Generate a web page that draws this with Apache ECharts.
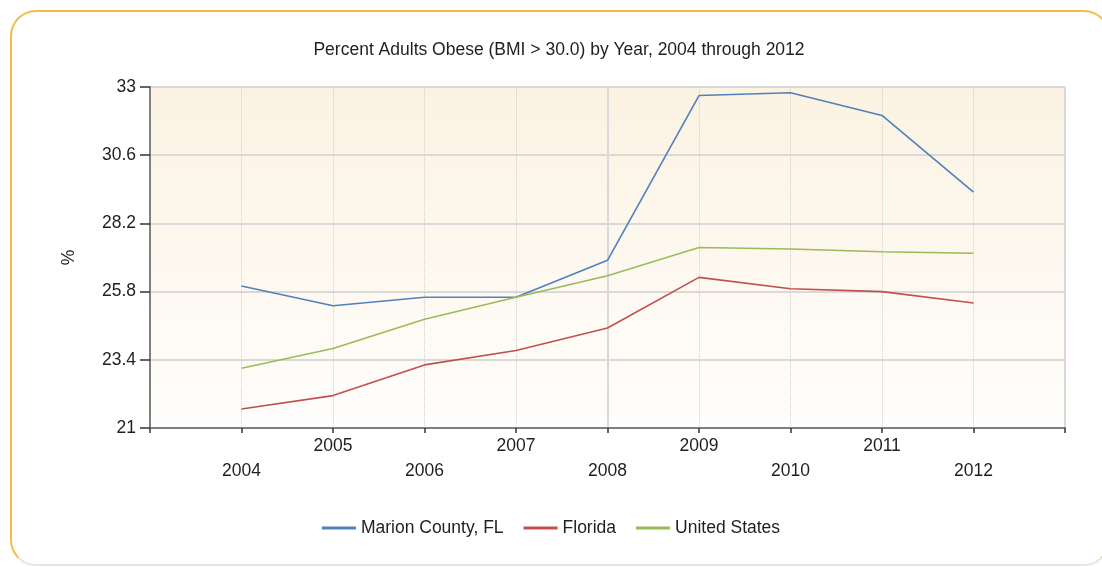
<!DOCTYPE html>
<html>
<head>
<meta charset="utf-8">
<script src="https://cdn.jsdelivr.net/npm/echarts@6/dist/echarts.min.js"></script>
<style>
  html, body { margin: 0; padding: 0; width: 1102px; height: 567px; overflow: hidden; background: #fff; }
  .frame {
    position: absolute; left: 10px; top: 10px; width: 1100px; height: 556px;
    border: 2px solid #f7bb45; border-bottom-color: #e6e6e6; border-radius: 26px; box-sizing: border-box;
  }
  #chart { position: absolute; left: 0; top: 0; width: 1102px; height: 567px; }
</style>
</head>
<body>
<div class="frame"></div>
<div id="chart"></div>
<script>
// 数据
const years = [2004, 2005, 2006, 2007, 2008, 2009, 2010, 2011, 2012]
const marion = [26.0, 25.3, 25.6, 25.6, 26.9, 32.7, 32.8, 32.0, 29.3]
const florida = [21.67, 22.14, 23.22, 23.73, 24.52, 26.3, 25.9, 25.8, 25.4]
const unitedStates = [23.1, 23.8, 24.83, 25.6, 26.36, 27.35, 27.3, 27.2, 27.15]
const yTicks = [21, 23.4, 25.8, 28.2, 30.6, 33]

const font = "'Liberation Sans', Arial, sans-serif"
const textColor = "#1f1f1f"
const fontSize = 17.5

const toPairs = (vals) => years.map((y, i) => [y, vals[i]])

const myChart = echarts.init(document.getElementById("chart"))

const option = {
  animation: false,
  textStyle: { fontFamily: font },
  title: {
    text: "Percent Adults Obese (BMI > 30.0) by Year, 2004 through 2012",
    left: 554,
    textAlign: "center",
    top: 36,
    textStyle: { fontSize: fontSize, fontWeight: "normal", color: textColor, fontFamily: font },
  },
  legend: {
    bottom: 25,
    left: "center",
    icon: "rect",
    itemWidth: 34,
    itemHeight: 3,
    itemGap: 20,
    textStyle: { fontSize: fontSize, color: textColor, fontFamily: font },
    data: ["Marion County, FL", "Florida", "United States"],
  },
  grid: {
    left: 150,
    top: 87,
    right: 37,
    bottom: 139,
    show: true,
    borderWidth: 0,
    backgroundColor: {
      type: "linear",
      x: 0, y: 0, x2: 0, y2: 1,
      colorStops: [
        { offset: 0, color: "#fbf2e2" },
        { offset: 1, color: "#fffefc" },
      ],
    },
  },
  xAxis: [
    {
      type: "value",
      min: 2003,
      max: 2013,
      interval: 1,
      axisLine: { lineStyle: { color: "#808080", width: 2 } },
      axisTick: { length: 5, lineStyle: { color: "#333", width: 1.5 } },
      axisLabel: {
        margin: 6,
        fontSize: fontSize,
        color: textColor,
        lineHeight: 25,
        formatter: (v) => {
          if (v < years[0] || v > years[years.length - 1]) return ""
          return v % 2 === 0 ? "\n" + v : String(v)
        },
      },
      splitLine: { show: true, lineStyle: { color: "#cfcfcf", type: "dotted", width: 1 } },
    },
    {
      type: "value",
      min: 2003,
      max: 2013,
      interval: 5,
      position: "bottom",
      axisLine: { show: false },
      axisTick: { show: false },
      axisLabel: { show: false },
      splitLine: { show: true, lineStyle: { color: "#d9d9d9", width: 2 } },
    },
  ],
  yAxis: {
    type: "value",
    min: yTicks[0],
    max: yTicks[yTicks.length - 1],
    interval: 2.4,
    name: "%",
    nameLocation: "middle",
    nameRotate: 90,
    nameGap: 72,
    nameTextStyle: { fontSize: fontSize, color: textColor },
    axisLine: { show: true, lineStyle: { color: "#808080", width: 2 } },
    axisTick: { show: true, length: 10, lineStyle: { color: "#333", width: 1.5 } },
    axisLabel: {
      margin: 14,
      fontSize: fontSize,
      color: textColor,
      formatter: (v) => String(+v.toFixed(1)),
    },
    splitLine: { show: true, lineStyle: { color: "#d9d9d9", width: 2 } },
  },
  series: [
    {
      name: "Marion County, FL",
      type: "line",
      showSymbol: false,
      data: toPairs(marion),
      lineStyle: { width: 1.6, color: "#4f81bd" },
      itemStyle: { color: "#4f81bd" },
    },
    {
      name: "Florida",
      type: "line",
      showSymbol: false,
      data: toPairs(florida),
      lineStyle: { width: 1.6, color: "#c0504d" },
      itemStyle: { color: "#c0504d" },
    },
    {
      name: "United States",
      type: "line",
      showSymbol: false,
      data: toPairs(unitedStates),
      lineStyle: { width: 1.6, color: "#9bbb59" },
      itemStyle: { color: "#9bbb59" },
    },
  ],
}

myChart.setOption(option)
</script>
</body>
</html>
